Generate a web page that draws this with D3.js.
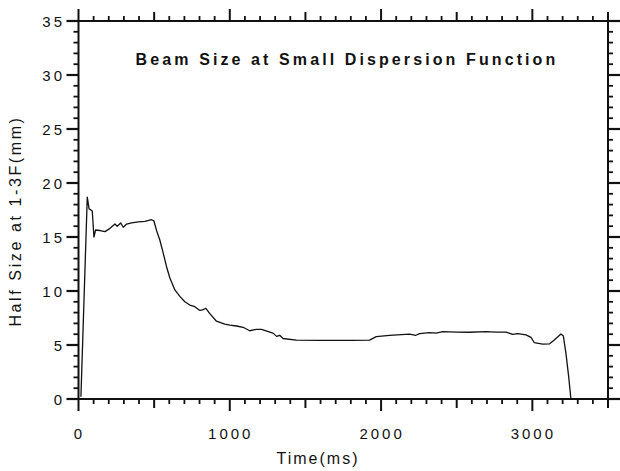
<!DOCTYPE html>
<html><head><meta charset="utf-8">
<script src="https://cdn.jsdelivr.net/npm/d3@7"></script>
<style>body{margin:0;background:#fff}svg text{font-family:"Liberation Sans",Arial,sans-serif;fill:#111}</style>
</head><body><svg id="c" width="620" height="471"></svg>
<script>
const title = "Beam Size at Small Dispersion Function";
const xLabel = "Time(ms)";
const yLabel = "Half Size at 1-3F(mm)";
const xTicks = [0, 1000, 2000, 3000];
const yTicks = [0, 5, 10, 15, 20, 25, 30, 35];
const timeMs = [16, 58, 70, 82, 91, 102, 113, 142, 175, 208, 241, 256, 279, 296, 318, 351, 395, 439, 483, 498, 516, 538, 560, 582, 604, 637, 670, 703, 736, 769, 802, 820, 842, 868, 912, 967, 1000, 1044, 1088, 1132, 1176, 1209, 1286, 1310, 1330, 1352, 1440, 1600, 1800, 1924, 1968, 2056, 2188, 2230, 2254, 2320, 2364, 2408, 2500, 2584, 2694, 2760, 2826, 2870, 2903, 2958, 2991, 3013, 3068, 3112, 3145, 3189, 3205, 3222, 3240, 3255];
const halfSize = [0.2, 18.7, 17.6, 17.5, 17.4, 15.0, 15.65, 15.6, 15.5, 15.8, 16.2, 16.0, 16.3, 15.9, 16.2, 16.3, 16.4, 16.45, 16.6, 16.5, 15.6, 14.7, 13.5, 12.25, 11.2, 10.1, 9.5, 9.0, 8.7, 8.55, 8.2, 8.25, 8.4, 7.9, 7.2, 6.94, 6.85, 6.76, 6.64, 6.32, 6.45, 6.45, 6.1, 5.8, 5.9, 5.6, 5.46, 5.42, 5.42, 5.45, 5.77, 5.9, 6.0, 5.9, 6.05, 6.14, 6.1, 6.23, 6.2, 6.18, 6.23, 6.2, 6.2, 5.99, 6.05, 5.93, 5.71, 5.21, 5.09, 5.1, 5.46, 6.02, 5.83, 4.23, 2.07, 0];

const svg = d3.select("#c");
const x = d3.scaleLinear().domain([0, 3500]).range([78.5, 608]);
const y = d3.scaleLinear().domain([0, 35]).range([399, 21]);
const L = x.range()[0], R = x.range()[1], B = y.range()[0], T = y.range()[1];

const ink = "#111";
svg.append("rect").attr("x", L).attr("y", T).attr("width", R - L).attr("height", B - T)
  .attr("fill", "none").attr("stroke", ink).attr("stroke-width", 2);

const xt = d3.range(0, 3501, 100);
const xlen = d => d % 1000 === 0 ? 12 : (d % 500 === 0 ? 9 : 5);
const g = svg.append("g").attr("stroke", ink);
xt.forEach(d => {
  const px = x(d);
  g.append("line").attr("x1", px).attr("x2", px).attr("y1", B).attr("y2", B + xlen(d))
    .attr("stroke-width", d % 500 === 0 ? 2 : 1.8);
  g.append("line").attr("x1", px).attr("x2", px).attr("y1", T).attr("y2", T - xlen(d))
    .attr("stroke-width", d % 500 === 0 ? 2 : 1.8);
});
const yt = d3.range(0, 36, 1);
yt.forEach(d => {
  const py = y(d);
  const len = d % 5 === 0 ? 12 : 5;
  g.append("line").attr("x1", L).attr("x2", L - len).attr("y1", py).attr("y2", py)
    .attr("stroke-width", d % 5 === 0 ? 2.2 : 1.8);
  g.append("line").attr("x1", R).attr("x2", R + len).attr("y1", py).attr("y2", py)
    .attr("stroke-width", d % 5 === 0 ? 2.2 : 1.8);
});

svg.selectAll(".xl").data(xTicks).enter().append("text")
  .attr("x", d => x(d) + 1).attr("y", 439).attr("text-anchor", "middle")
  .attr("font-size", 15).attr("letter-spacing", 3).text(d => d);
svg.selectAll(".yl").data(yTicks).enter().append("text")
  .attr("x", 65).attr("y", d => y(d) + 5.5).attr("text-anchor", "end")
  .attr("font-size", 15).attr("letter-spacing", 3).text(d => d);

svg.append("text").attr("x", 318).attr("y", 464).attr("text-anchor", "middle")
  .attr("font-size", 16).attr("letter-spacing", 2).text(xLabel);
svg.append("text").attr("transform", "translate(21,221) rotate(-90)").attr("text-anchor", "middle")
  .attr("font-size", 16).attr("letter-spacing", 2.6).text(yLabel);
svg.append("text").attr("x", 347).attr("y", 65).attr("text-anchor", "middle")
  .attr("font-size", 16).attr("font-weight", "bold").attr("letter-spacing", 3.1).text(title);

const pts = timeMs.map((t, i) => [t, halfSize[i]]);
svg.append("path").datum(pts)
  .attr("d", d3.line().x(d => x(d[0])).y(d => y(d[1])))
  .attr("fill", "none").attr("stroke", ink).attr("stroke-width", 1.3).attr("stroke-linejoin", "round");
</script></body></html>
